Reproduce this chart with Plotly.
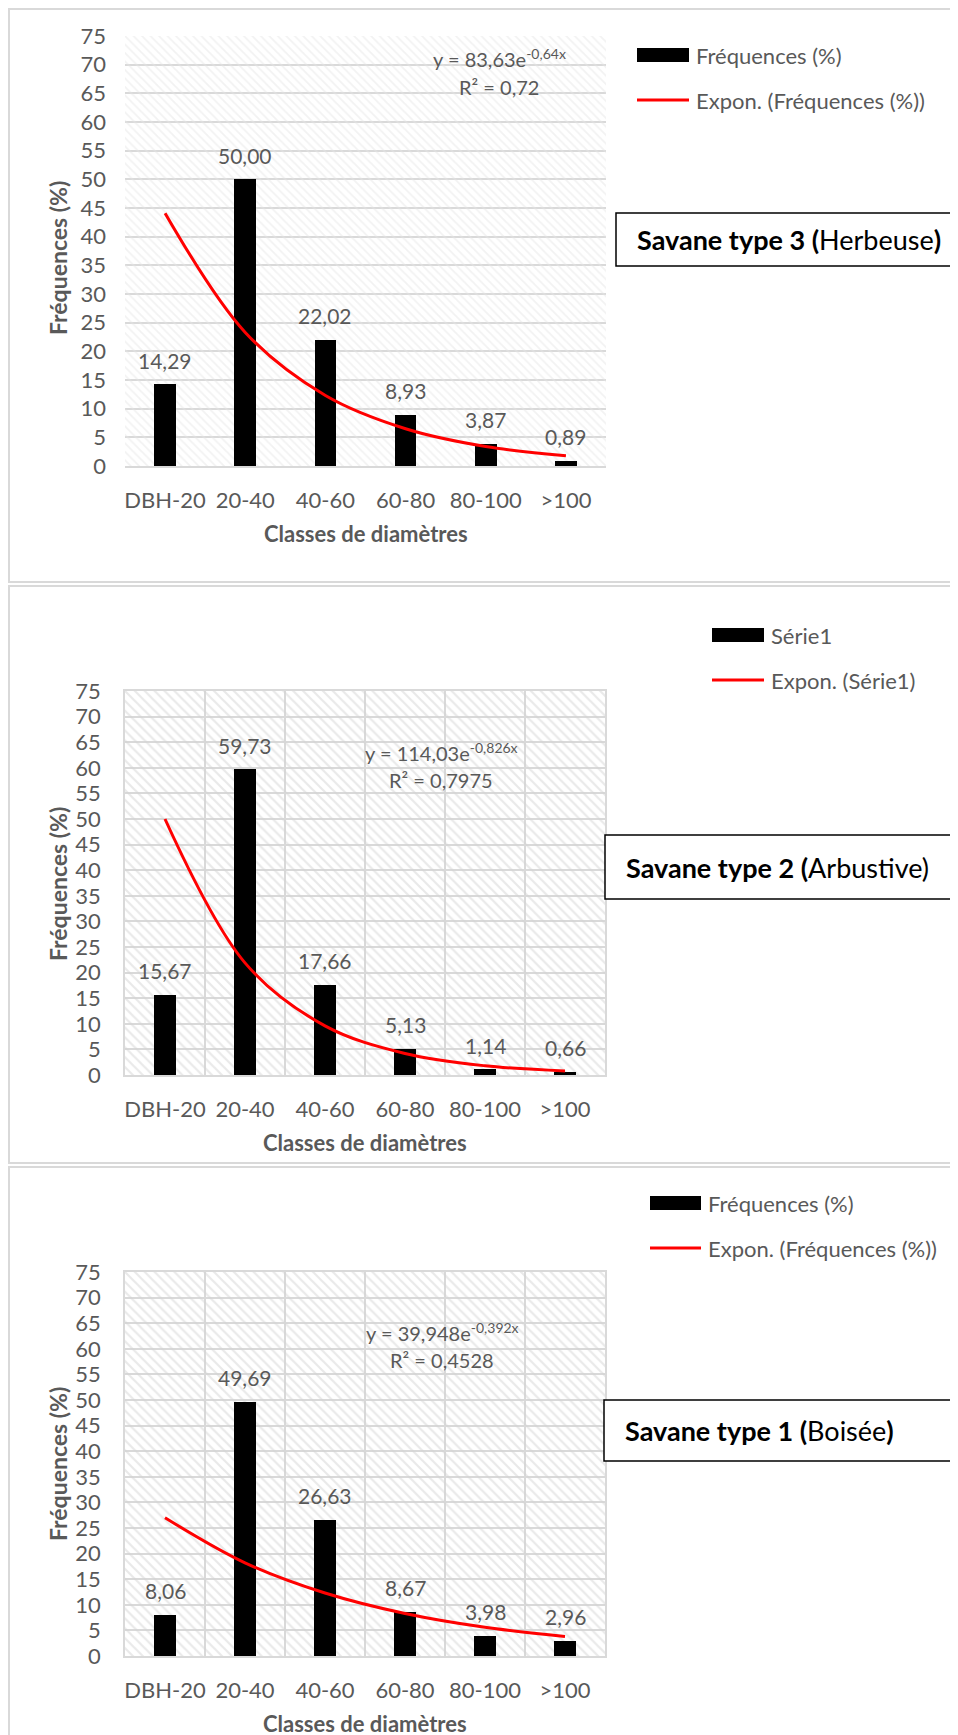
import plotly.graph_objects as go
from plotly.subplots import make_subplots

W, H = 958, 1735
PAGE_PAD = 8  # default body margin of the html page

categories = ["DBH-20", "20-40", "40-60", "60-80", "80-100", ">100"]

# frequencies (%) per diameter class
freq_type3 = [14.29, 50.00, 22.02, 8.93, 3.87, 0.89]
freq_type2 = [15.67, 59.73, 17.66, 5.13, 1.14, 0.66]
freq_type1 = [8.06, 49.69, 26.63, 8.67, 3.98, 2.96]

# exponential trendline, read at each class centre
trend_type3 = [44.1, 23.3, 12.3, 6.5, 3.4, 1.8]
trend_type2 = [50.0, 21.9, 9.6, 4.2, 1.8, 0.8]
trend_type1 = [27.0, 18.2, 12.3, 8.3, 5.6, 3.8]

y_max = 75
y_step = 5

GRAY = "#595959"
GRID = "#d9d9d9"
FONT = "Lato"


def px_x(v):
    return (v - PAGE_PAD) / W


def px_y(v):
    return 1 - (v - PAGE_PAD) / H


panels = [
    dict(freq=freq_type3, trend=trend_type3,
         bar_name="Fréquences (%)", line_name="Expon. (Fréquences (%))",
         eq="y = 83,63e<sup>-0,64x</sup>", r2="R² = 0,72",
         title="<b>Savane type 3 (</b>Herbeuse<b>)</b>",
         plot=(125, 606, 36, 466), border=(9, 970, 9, 582), box=(616, 970, 213, 266),
         legend=(637, 689, 55, 100), eq_pos=(499, 58, 87), ytitle_y=258, xtitle_y=533,
         vgrid=False, hatch=("#e6e6e6", 6, 0.3)),
    dict(freq=freq_type2, trend=trend_type2,
         bar_name="Série1", line_name="Expon. (Série1)",
         eq="y = 114,03e<sup>-0,826x</sup>", r2="R² = 0,7975",
         title="<b>Savane type 2 (</b>Arbustive)",
         plot=(125, 605, 691, 1075), border=(9, 970, 586, 1163), box=(605, 956, 835, 899),
         legend=(712, 764, 635, 680), eq_pos=(441, 752, 780), ytitle_y=884, xtitle_y=1142,
         vgrid=True, hatch=("#d4d4d4", 7, 0.32)),
    dict(freq=freq_type1, trend=trend_type1,
         bar_name="Fréquences (%)", line_name="Expon. (Fréquences (%))",
         eq="y = 39,948e<sup>-0,392x</sup>", r2="R² = 0,4528",
         title="<b>Savane type 1 (</b>Boisée<b>)</b>",
         plot=(125, 605, 1272, 1656), border=(9, 970, 1167, 1760), box=(604, 970, 1400, 1461),
         legend=(650, 701, 1203, 1248), eq_pos=(442, 1332, 1360), ytitle_y=1464, xtitle_y=1723,
         vgrid=True, hatch=("#d4d4d4", 7, 0.32)),
]

fig = make_subplots(rows=3, cols=1)
shapes = []
annotations = []

for i, p in enumerate(panels, start=1):
    x0, x1, y0, y1 = p["plot"]
    fg, size, solid = p["hatch"]

    # hatched plot-area background
    fig.add_trace(go.Bar(
        x=categories, y=[y_max] * len(categories), width=1,
        marker=dict(color="rgba(0,0,0,0)", line_width=0,
                    pattern=dict(shape="\\", fgcolor=fg, bgcolor="rgba(0,0,0,0)",
                                 size=size, solidity=solid)),
        hoverinfo="skip", showlegend=False), row=i, col=1)
    fig.add_trace(go.Bar(
        x=categories, y=p["freq"], width=0.27, name=p["bar_name"],
        marker=dict(color="black", line_width=0), showlegend=False), row=i, col=1)
    fig.add_trace(go.Scatter(
        x=categories, y=p["trend"], mode="lines", name=p["line_name"],
        line=dict(color="#ff0000", width=3, shape="spline"), showlegend=False), row=i, col=1)

    xa = "xaxis" if i == 1 else f"xaxis{i}"
    ya = "yaxis" if i == 1 else f"yaxis{i}"
    fig.layout[xa].update(
        domain=[px_x(x0), px_x(x1)], range=[-0.5, len(categories) - 0.5],
        showgrid=p["vgrid"], gridcolor=GRID, gridwidth=1.5, tickson="boundaries",
        showline=True, linecolor=GRID, linewidth=1.5, mirror=p["vgrid"],
        ticks="", tickangle=0, automargin=False, ticklabelstandoff=14,
        tickfont=dict(size=22, color=GRAY, family=FONT), fixedrange=True)
    fig.layout[ya].update(
        domain=[px_y(y1), px_y(y0)], range=[0, y_max], tick0=0, dtick=y_step,
        showgrid=True, gridcolor=GRID, gridwidth=1.5, zeroline=False,
        showline=p["vgrid"], linecolor=GRID, linewidth=1.5, mirror=p["vgrid"],
        ticks="", automargin=False, ticklabelstandoff=18,
        tickfont=dict(size=22, color=GRAY, family=FONT), fixedrange=True)

    xr = "x" if i == 1 else f"x{i}"
    yr = "y" if i == 1 else f"y{i}"
    # data labels
    for c, v in zip(categories, p["freq"]):
        annotations.append(dict(
            x=c, y=v, xref=xr, yref=yr, text=f"{v:.2f}".replace(".", ","),
            showarrow=False, yanchor="middle", yshift=24,
            font=dict(size=21, color=GRAY, family=FONT)))

    # trendline equation
    ex, ey, ry = p["eq_pos"]
    annotations.append(dict(x=px_x(ex), y=px_y(ey), xref="paper", yref="paper", text=p["eq"],
                            showarrow=False, xanchor="center", yanchor="middle",
                            font=dict(size=20, color=GRAY, family=FONT)))
    annotations.append(dict(x=px_x(ex), y=px_y(ry), xref="paper", yref="paper", text=p["r2"],
                            showarrow=False, xanchor="center", yanchor="middle",
                            font=dict(size=20, color=GRAY, family=FONT)))

    # axis titles
    annotations.append(dict(x=px_x(58), y=px_y(p["ytitle_y"]), xref="paper", yref="paper",
                            text="<b>Fréquences (%)</b>", textangle=-90, showarrow=False,
                            xanchor="center", yanchor="middle",
                            font=dict(size=23, color=GRAY, family=FONT)))
    annotations.append(dict(x=px_x((x0 + x1) / 2), y=px_y(p["xtitle_y"]), xref="paper", yref="paper",
                            text="<b>Classes de diamètres</b>", showarrow=False,
                            xanchor="center", yanchor="middle",
                            font=dict(size=22, color=GRAY, family=FONT)))

    # panel border
    bx0, bx1, by0, by1 = p["border"]
    shapes.append(dict(type="rect", xref="paper", yref="paper",
                       x0=px_x(bx0), x1=px_x(bx1), y0=px_y(by1), y1=px_y(by0),
                       line=dict(color=GRID, width=2)))

    # legend
    lx0, lx1, ly_bar, ly_line = p["legend"]
    shapes.append(dict(type="rect", xref="paper", yref="paper",
                       x0=px_x(lx0), x1=px_x(lx1), y0=px_y(ly_bar + 7), y1=px_y(ly_bar - 7),
                       fillcolor="black", line=dict(width=0)))
    shapes.append(dict(type="line", xref="paper", yref="paper",
                       x0=px_x(lx0), x1=px_x(lx1), y0=px_y(ly_line), y1=px_y(ly_line),
                       line=dict(color="#ff0000", width=3)))
    for txt, ly in [(p["bar_name"], ly_bar), (p["line_name"], ly_line)]:
        annotations.append(dict(x=px_x(lx1 + 5), y=px_y(ly), xref="paper", yref="paper",
                                text=txt, showarrow=False, xanchor="left", yanchor="middle",
                                font=dict(size=22, color=GRAY, family=FONT)))

    # savanna type box
    tx0, tx1, ty0, ty1 = p["box"]
    shapes.append(dict(type="rect", xref="paper", yref="paper",
                       x0=px_x(tx0), x1=px_x(tx1), y0=px_y(ty1), y1=px_y(ty0),
                       fillcolor="white", line=dict(color="black", width=1.5)))
    annotations.append(dict(x=px_x(tx0 + 19), y=px_y((ty0 + ty1) / 2), xref="paper", yref="paper",
                            text=p["title"], showarrow=False, xanchor="left", yanchor="middle",
                            font=dict(size=27, color="black", family=FONT)))

fig.update_layout(
    width=W, height=H,
    margin=dict(l=0, r=0, t=0, b=0),
    paper_bgcolor="white", plot_bgcolor="white",
    barmode="overlay", bargap=0,
    showlegend=False,
    font=dict(family=FONT, color=GRAY),
    shapes=shapes, annotations=annotations,
)

fig.write_html("out.html")
